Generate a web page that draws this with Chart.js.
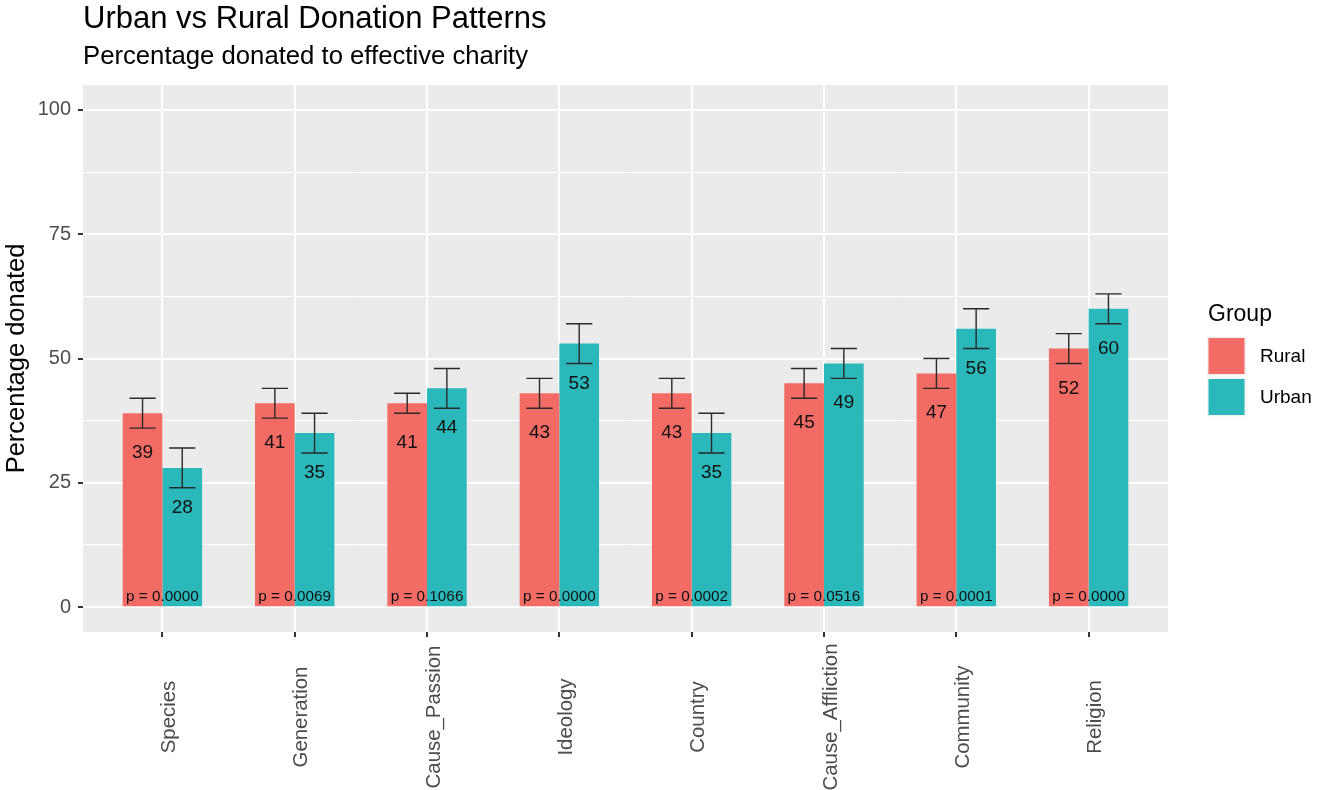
<!DOCTYPE html>
<html>
<head>
<meta charset="utf-8">
<title>Urban vs Rural Donation Patterns</title>
<script src="https://cdn.jsdelivr.net/npm/chart.js@4.4.1/dist/chart.umd.min.js"></script>
<style>
  html, body { margin: 0; padding: 0; background: #ffffff; }
  #c { display: block; }
</style>
</head>
<body>
<canvas id="c" width="1317" height="790"></canvas>
<script>
// ---- data ----
const categories = ['Species', 'Generation', 'Cause_Passion', 'Ideology', 'Country', 'Cause_Affliction', 'Community', 'Religion'];
const groups = ['Rural', 'Urban'];
const rural = [39, 41, 41, 43, 43, 45, 47, 52];
const urban = [28, 35, 44, 53, 35, 49, 56, 60];
const ruralLow = [36, 38, 39, 40, 40, 42, 44, 49];
const ruralHigh = [42, 44, 43, 46, 46, 48, 50, 55];
const urbanLow = [24, 31, 40, 49, 31, 46, 52, 57];
const urbanHigh = [32, 39, 48, 57, 39, 52, 60, 63];
const pValues = ['0.0000', '0.0069', '0.1066', '0.0000', '0.0002', '0.0516', '0.0001', '0.0000'];
const yTicks = [0, 25, 50, 75, 100];
const yMinorTicks = [12.5, 37.5, 62.5, 87.5];

// ---- style ----
const FONT = "'Liberation Sans', Arial, Helvetica, sans-serif";
const fills = ['#F26B65', '#2BB8BA'];
const PANEL_BG = '#EBEBEB';
const TEXT_AXIS = '#4D4D4D';
Chart.defaults.font.family = FONT;

// grey panel behind the plot area
const panelBackground = {
  id: 'panelBackground',
  beforeDraw(chart) {
    const { ctx, chartArea: a } = chart;
    ctx.save();
    ctx.fillStyle = '#ffffff';
    ctx.fillRect(0, 0, chart.width, chart.height);
    ctx.fillStyle = PANEL_BG;
    ctx.fillRect(a.left, a.top, a.right - a.left, a.bottom - a.top);
    ctx.restore();
  }
};

// error bars, value labels and p-value labels on top of the bars
const barAnnotations = {
  id: 'barAnnotations',
  afterDatasetsDraw(chart) {
    const { ctx, scales: { x, y } } = chart;
    const values = [rural, urban];
    const lows = [ruralLow, urbanLow];
    const highs = [ruralHigh, urbanHigh];
    ctx.save();
    // error bars
    ctx.strokeStyle = '#2a2a2a';
    ctx.lineWidth = 1.4;
    chart.data.datasets.forEach((ds, d) => {
      chart.getDatasetMeta(d).data.forEach((bar, i) => {
        const cx = bar.x;
        const half = bar.width * 0.33;
        const yHi = y.getPixelForValue(highs[d][i]);
        const yLo = y.getPixelForValue(lows[d][i]);
        ctx.beginPath();
        ctx.moveTo(cx, yHi); ctx.lineTo(cx, yLo);
        ctx.moveTo(cx - half, yHi); ctx.lineTo(cx + half, yHi);
        ctx.moveTo(cx - half, yLo); ctx.lineTo(cx + half, yLo);
        ctx.stroke();
      });
    });
    // value labels inside the bars
    ctx.fillStyle = '#111111';
    ctx.font = '19px ' + FONT;
    ctx.textAlign = 'center';
    ctx.textBaseline = 'middle';
    chart.data.datasets.forEach((ds, d) => {
      chart.getDatasetMeta(d).data.forEach((bar, i) => {
        ctx.fillText(String(values[d][i]), bar.x, y.getPixelForValue(values[d][i] - 8));
      });
    });
    // p-values at the foot of each pair
    ctx.font = '15.3px ' + FONT;
    categories.forEach((c, i) => {
      ctx.fillText('p = ' + pValues[i], x.getPixelForValue(i + 1), y.getPixelForValue(2));
    });
    ctx.restore();
  }
};

// rotated category labels, centred in the band under the axis
const categoryLabels = {
  id: 'categoryLabels',
  afterDraw(chart) {
    const { ctx, chartArea: a, scales: { x } } = chart;
    ctx.save();
    ctx.fillStyle = TEXT_AXIS;
    ctx.font = '20.4px ' + FONT;
    ctx.textAlign = 'center';
    ctx.textBaseline = 'middle';
    categories.forEach((c, i) => {
      ctx.save();
      ctx.translate(x.getPixelForValue(i + 1) + 7, a.bottom + 85);
      ctx.rotate(-Math.PI / 2);
      ctx.fillText(c, 0, 0);
      ctx.restore();
    });
    ctx.restore();
  }
};

// title and subtitle, left-aligned with the panel
const headings = {
  id: 'headings',
  afterDraw(chart) {
    const { ctx, chartArea: a } = chart;
    ctx.save();
    ctx.fillStyle = '#000000';
    ctx.textAlign = 'left';
    ctx.textBaseline = 'alphabetic';
    ctx.font = '31px ' + FONT;
    ctx.fillText('Urban vs Rural Donation Patterns', a.left, 28);
    ctx.font = '25.7px ' + FONT;
    ctx.fillText('Percentage donated to effective charity', a.left, 64);
    ctx.restore();
  }
};

// fill legend on the right
const groupLegend = {
  id: 'groupLegend',
  afterDraw(chart) {
    const { ctx, chartArea: a } = chart;
    const left = a.right + 39;
    const keyTop = 336.5;
    const key = 39;
    ctx.save();
    ctx.fillStyle = '#000000';
    ctx.textAlign = 'left';
    ctx.textBaseline = 'alphabetic';
    ctx.font = '23px ' + FONT;
    ctx.fillText('Group', left + 1, 321);
    ctx.font = '19px ' + FONT;
    ctx.textBaseline = 'middle';
    chart.data.datasets.forEach((ds, d) => {
      const top = keyTop + d * (key + 2);
      ctx.fillStyle = '#F2F2F2';
      ctx.fillRect(left, top, key, key);
      ctx.fillStyle = ds.backgroundColor;
      ctx.fillRect(left + 1.5, top + 1.5, key - 3, key - 3);
      ctx.fillStyle = '#000000';
      ctx.fillText(ds.label, left + 53, top + key / 2 + 1);
    });
    ctx.restore();
  }
};

const datasets = [rural, urban].map((vals, d) => ({
  label: groups[d],
  data: vals.map((v, i) => ({ x: i + 1, y: v })),
  backgroundColor: fills[d],
  borderWidth: 0,
  categoryPercentage: 0.6,
  barPercentage: 1.0
}));

new Chart(document.getElementById('c'), {
  type: 'bar',
  data: { datasets },
  options: {
    responsive: false,
    animation: false,
    events: [],
    layout: { padding: { top: 85, right: 149, bottom: 0, left: 0 } },
    plugins: {
      legend: { display: false },
      tooltip: { enabled: false },
      title: { display: false }
    },
    scales: {
      x: {
        type: 'linear',
        min: 0.4,
        max: 8.6,
        offset: false,
        afterBuildTicks: s => { s.ticks = categories.map((c, i) => ({ value: i + 1 })); },
        afterFit: s => { s.height = 158; },
        ticks: { display: false },
        grid: { offset: false, color: '#ffffff', lineWidth: 2, tickLength: 5, tickColor: '#333333', tickWidth: 2 },
        border: { display: false }
      },
      y: {
        type: 'linear',
        min: -5,
        max: 105,
        afterBuildTicks: s => {
          s.ticks = yTicks.concat(yMinorTicks).sort((p, q) => p - q).map(v => ({ value: v }));
        },
        afterFit: s => { s.width = 83; },
        ticks: {
          color: TEXT_AXIS,
          font: { size: 20 },
          padding: 7,
          callback: v => (yTicks.includes(v) ? String(v) : '')
        },
        grid: {
          color: '#ffffff',
          lineWidth: c => (yTicks.includes(c.tick && c.tick.value) ? 2 : 1),
          tickLength: 5,
          tickWidth: 2,
          tickColor: c => (yTicks.includes(c.tick && c.tick.value) ? '#333333' : 'rgba(0,0,0,0)')
        },
        border: { display: false },
        title: {
          display: true,
          text: 'Percentage donated',
          color: '#000000',
          font: { size: 25.5 },
          padding: { top: 2, bottom: 0 }
        }
      }
    }
  },
  plugins: [panelBackground, barAnnotations, categoryLabels, headings, groupLegend]
});
</script>
</body>
</html>
